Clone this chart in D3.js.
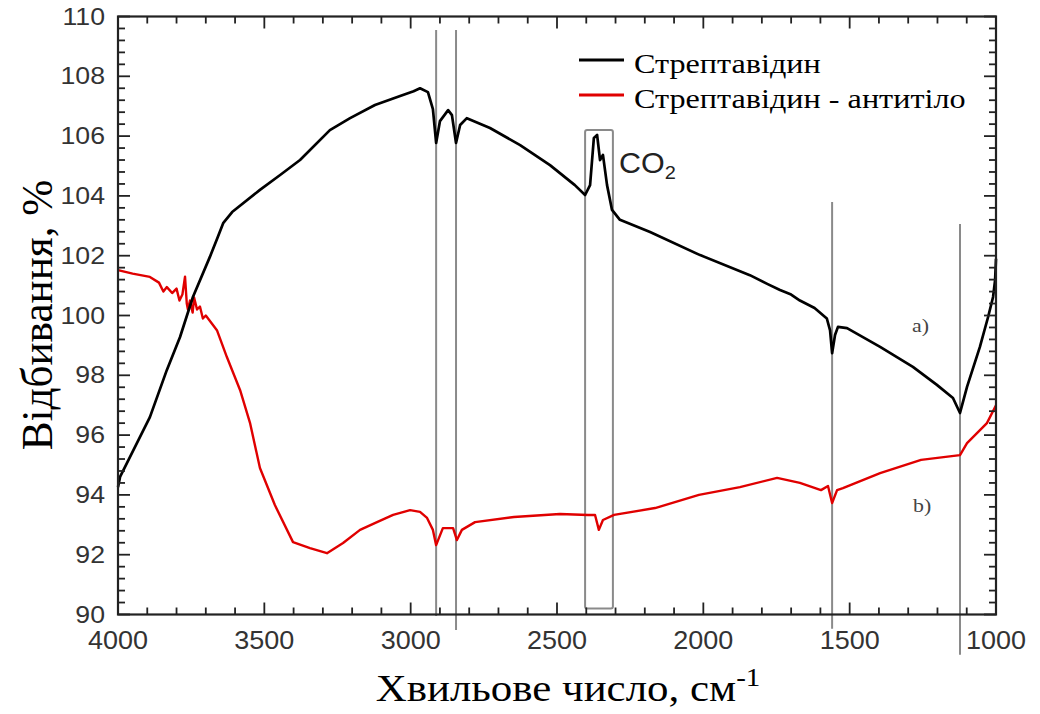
<!DOCTYPE html>
<html><head><meta charset="utf-8">
<script src="https://cdn.jsdelivr.net/npm/d3@7"></script>
<style>body{margin:0;background:#fff}svg{display:block}</style>
</head><body>
<svg id="c" width="1040" height="714"></svg>
<script>
// Series a) Стрептавідин  [wavenumber, reflectance %]
const streptWn  = [4000,3993,3891,3833,3788,3744,3686,3660,3640,3610,3515,3446,3378,3276,3207,3122,3036,2990,2968,2941,2924,2913,2900,2872,2859,2845,2831,2808,2729,2626,2524,2439,2404,2387,2374,2363,2353,2343,2329,2312,2285,2182,2011,1841,1780,1738,1700,1670,1620,1578,1567,1560,1550,1540,1509,1396,1284,1202,1147,1123,1099,1055,1027,1010,1003,1000];
const streptVal = [94.26,94.6,96.6,98.18,99.28,100.62,101.96,102.6,103.1,103.46,104.2,104.7,105.2,106.2,106.6,107.04,107.34,107.5,107.6,107.47,106.9,105.77,106.5,106.87,106.7,105.77,106.37,106.6,106.27,105.7,105.03,104.36,104.03,104.36,105.94,106.04,105.2,105.37,104.36,103.53,103.2,102.79,102.02,101.35,101.05,100.85,100.7,100.5,100.25,99.9,99.5,98.74,99.35,99.62,99.58,98.95,98.28,97.68,97.24,96.74,97.61,98.95,99.95,100.62,101.19,101.9];
// Series b) Стрептавідин - антитіло
const antiWn  = [4000,3950,3891,3860,3845,3833,3815,3800,3790,3780,3771,3765,3761,3754,3745,3740,3730,3720,3710,3700,3662,3628,3583,3549,3515,3464,3402,3344,3286,3231,3173,3115,3060,3002,2968,2944,2924,2913,2890,2855,2842,2825,2780,2647,2490,2394,2370,2357,2343,2305,2165,2015,1875,1748,1670,1598,1574,1560,1543,1523,1396,1256,1123,1099,1031,1000];
const antiVal = [101.52,101.4,101.29,101.1,100.8,100.95,100.75,100.9,100.5,100.7,101.3,100.4,100.2,100.5,100.1,100.6,100.2,100.3,99.9,100.0,99.51,98.61,97.51,96.41,94.9,93.66,92.42,92.22,92.05,92.39,92.83,93.09,93.33,93.49,93.43,93.23,92.83,92.32,92.89,92.89,92.49,92.83,93.09,93.26,93.36,93.33,93.33,92.83,93.16,93.33,93.56,94.0,94.26,94.57,94.4,94.16,94.3,93.73,94.16,94.23,94.73,95.17,95.33,95.73,96.4,97.0];

const xTicks = [4000,3500,3000,2500,2000,1500,1000];
const yTicks = [90,92,94,96,98,100,102,104,106,108,110];
const seriesNames = ["Стрептавідин","Стрептавідин - антитіло"];
const seriesColors = ["#000000","#e00000"];
// marker lines [wavenumber, top value, bottom value]
const markerWn   = [2913,2845,1560,1123];
const markerTop  = [109.55,109.55,103.8,103.06];
const markerBot  = [89.95,89.48,89.52,88.65];
// CO2 box [wn left, wn right, top value, bottom value]
const co2Box = [2404,2309,106.2,90.2];

const svg = d3.select("#c");
const L=118,R=996,T=16.5,B=614.5;
const x = d3.scaleLinear().domain([4000,1000]).range([L,R]);
const y = d3.scaleLinear().domain([90,110]).range([B,T]);
const SX = 1.16; // horizontal stretch of the original lettering

// grey marker lines
svg.append("g").selectAll("line").data(markerWn).join("line")
  .attr("x1",d=>x(d)).attr("x2",d=>x(d))
  .attr("y1",(d,i)=>y(markerTop[i])).attr("y2",(d,i)=>y(markerBot[i]))
  .attr("stroke","#8a8a8a").attr("stroke-width",2);
svg.append("rect")
  .attr("x",x(co2Box[0])).attr("y",y(co2Box[2]))
  .attr("width",x(co2Box[1])-x(co2Box[0])).attr("height",y(co2Box[3])-y(co2Box[2]))
  .attr("rx",2).attr("fill","none").attr("stroke","#8a8a8a").attr("stroke-width",2);

// lines
const line = d3.line().x(d=>x(d[0])).y(d=>y(d[1]));
svg.append("path").datum(antiWn.map((w,i)=>[w,antiVal[i]]))
  .attr("d",line).attr("fill","none").attr("stroke",seriesColors[1]).attr("stroke-width",2.4).attr("stroke-linejoin","round");
svg.append("path").datum(streptWn.map((w,i)=>[w,streptVal[i]]))
  .attr("d",line).attr("fill","none").attr("stroke",seriesColors[0]).attr("stroke-width",2.7).attr("stroke-linejoin","round");

// axes (ticks inside)
const xMinor = d3.range(4000,999,-100);
const yMinor = d3.range(0,51).map(i=>90+i*0.4);
function tickLen(isMajor){return isMajor?12:7;}
const axG = svg.append("g").attr("stroke","#222").attr("stroke-width",1.8);
axG.append("rect").attr("x",L).attr("y",T).attr("width",R-L).attr("height",B-T).attr("fill","none").attr("stroke-width",2.2);
xMinor.forEach(v=>{
  const maj = v%500===0;
  axG.append("line").attr("x1",x(v)).attr("x2",x(v)).attr("y1",B).attr("y2",B-tickLen(maj));
  axG.append("line").attr("x1",x(v)).attr("x2",x(v)).attr("y1",T).attr("y2",T+tickLen(maj));
});
yMinor.forEach(v=>{
  const maj = Math.abs(v/2-Math.round(v/2))<1e-6;
  axG.append("line").attr("y1",y(v)).attr("y2",y(v)).attr("x1",L).attr("x2",L+tickLen(maj));
  axG.append("line").attr("y1",y(v)).attr("y2",y(v)).attr("x1",R).attr("x2",R-tickLen(maj));
});
svg.append("g").selectAll("text").data(xTicks).join("text")
  .attr("transform",d=>`translate(${x(d)},${B+34}) scale(1.08,1)`).attr("text-anchor","middle")
  .attr("font-family","Liberation Sans, Arial, sans-serif").attr("font-size",25).attr("fill","#333")
  .text(d=>d);
svg.append("g").selectAll("text").data(yTicks).join("text")
  .attr("transform",d=>`translate(${L-13},${y(d)+8}) scale(${SX},1)`).attr("text-anchor","end")
  .attr("font-family","Liberation Sans, Arial, sans-serif").attr("font-size",23).attr("fill","#333")
  .text(d=>d);

// axis titles
svg.append("text").attr("transform","translate(52,315) rotate(-90) scale(1.08,1.12)").attr("text-anchor","middle")
  .attr("font-family","Liberation Serif, Times New Roman, serif").attr("font-size",40).attr("fill","#000")
  .text("Відбивання, %");
const xt = svg.append("text").attr("transform",`translate(568,701) scale(${SX},1)`).attr("text-anchor","middle")
  .attr("font-family","Liberation Serif, Times New Roman, serif").attr("font-size",37).attr("fill","#000");
xt.append("tspan").text("Хвильове число, см");
xt.append("tspan").attr("dy",-15).attr("font-size",25).text("-1");

// legend
seriesNames.forEach((n,i)=>{
  const yy = 60+i*35;
  svg.append("line").attr("x1",579).attr("x2",624).attr("y1",yy).attr("y2",yy)
    .attr("stroke",seriesColors[i]).attr("stroke-width",2.8);
  svg.append("text").attr("transform",`translate(634,${yy+13}) scale(1.15,1)`)
    .attr("font-family","Liberation Serif, Times New Roman, serif").attr("font-size",28).attr("fill","#000").text(n);
});

// CO2 label
const co = svg.append("text").attr("transform","translate(619,173) scale(1.05,1)")
  .attr("font-family","Liberation Sans, Arial, sans-serif").attr("font-size",29).attr("fill","#222");
co.append("tspan").text("CO");
co.append("tspan").attr("dy",6).attr("font-size",19).text("2");

// series labels a) b)
svg.append("text").attr("transform","translate(912,332) scale(1.15,1)").attr("font-family","Liberation Serif, serif").attr("font-size",19).attr("fill","#444").text("a)");
svg.append("text").attr("transform","translate(913,512) scale(1.15,1)").attr("font-family","Liberation Serif, serif").attr("font-size",19).attr("fill","#444").text("b)");
</script>
</body></html>
